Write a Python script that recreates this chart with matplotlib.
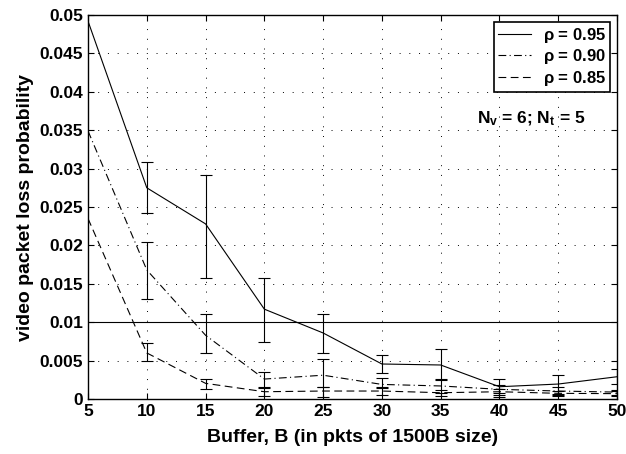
"""Video packet loss probability vs buffer size."""

import matplotlib

matplotlib.use("Agg")
import matplotlib.pyplot as plt

plt.rcParams["font.family"] = ["Liberation Sans", "DejaVu Sans"]
plt.rcParams["font.weight"] = "bold"
plt.rcParams["mathtext.fontset"] = "custom"
plt.rcParams["mathtext.rm"] = "Liberation Sans:bold"
plt.rcParams["mathtext.bf"] = "Liberation Sans:bold"
plt.rcParams["mathtext.it"] = "Liberation Sans:bold"

buffer_sizes = [5, 10, 15, 20, 25, 30, 35, 40, 45, 50]

loss_095 = [0.0492, 0.0275, 0.0228, 0.0117, 0.0086, 0.00456, 0.00443, 0.0016, 0.00195, 0.0029]
low_095 = [0.0492, 0.0242, 0.0158, 0.0074, 0.0060, 0.00334, 0.00256, 0.0002, 0.0005, 0.0020]
high_095 = [0.0492, 0.0309, 0.0292, 0.0158, 0.0111, 0.00569, 0.00655, 0.00256, 0.0031, 0.0039]

loss_090 = [0.0349, 0.0168, 0.0083, 0.0026, 0.0031, 0.0019, 0.0017, 0.00126, 0.00104, 0.0009]
low_090 = [0.0349, 0.0130, 0.0060, 0.00147, 0.0016, 0.0014, 0.00074, 0.0008, 0.0006, 0.0005]
high_090 = [0.0349, 0.0204, 0.0111, 0.00356, 0.0052, 0.0028, 0.0025, 0.0018, 0.0015, 0.0012]

loss_085 = [0.0235, 0.0060, 0.00204, 0.00095, 0.00104, 0.00104, 0.00082, 0.00095, 0.00074, 0.0007]
low_085 = [0.0235, 0.00495, 0.0013, 0.0004, 0.0003, 0.0005, 0.0004, 0.0005, 0.0004, 0.0004]
high_085 = [0.0235, 0.0073, 0.00256, 0.0016, 0.0016, 0.0016, 0.0012, 0.0013, 0.0011, 0.0010]

series = [
    (r"$\rho$ = 0.95", loss_095, low_095, high_095, "-"),
    (r"$\rho$ = 0.90", loss_090, low_090, high_090, (0, (7, 3, 1, 3))),
    (r"$\rho$ = 0.85", loss_085, low_085, high_085, (0, (7, 4))),
]

fig = plt.figure(figsize=(6.26, 4.54), dpi=100)
ax = fig.add_axes([0.1406, 0.1211, 0.845, 0.8459])

for label, vals, lo, hi, ls in series:
    ax.plot(buffer_sizes, vals, color="black", linestyle=ls, linewidth=0.8, label=label)
    yerr = [[v - l for v, l in zip(vals, lo)], [h - v for v, h in zip(vals, hi)]]
    ax.errorbar(buffer_sizes[1:], vals[1:], yerr=[yerr[0][1:], yerr[1][1:]],
                fmt="none", ecolor="black", elinewidth=0.8, capsize=4, capthick=0.8)

ax.axhline(0.01, color="black", linewidth=0.8)

ax.set_xlim(5, 50)
ax.set_ylim(0, 0.05)
ax.set_xticks(range(5, 51, 5))
ax.set_yticks([i * 0.005 for i in range(11)])
ax.set_yticklabels(["0", "0.005", "0.01", "0.015", "0.02", "0.025",
                    "0.03", "0.035", "0.04", "0.045", "0.05"])
ax.tick_params(direction="in", top=True, right=True, labelsize=12.5, length=4)
for lbl in ax.get_xticklabels() + ax.get_yticklabels():
    lbl.set_fontweight("bold")
ax.grid(True, linestyle=(0, (1, 9)), color="black", linewidth=0.7)
for sp in ax.spines.values():
    sp.set_linewidth(1.0)

ax.set_xlabel("Buffer, B (in pkts of 1500B size)", fontsize=14, fontweight="bold",
              labelpad=7)
ax.set_ylabel("video packet loss probability", fontsize=14, fontweight="bold")

ax.text(38.1, 0.0365, r"N$_\mathrm{v}$ = 6; N$_\mathrm{t}$ = 5", fontsize=12.5,
        fontweight="bold", va="center")

leg = ax.legend(loc="upper right", fontsize=12, fancybox=False, framealpha=1,
                edgecolor="black", borderpad=0.25, labelspacing=0.15,
                handlelength=2.0, handletextpad=0.7, borderaxespad=0.4)
leg.get_frame().set_linewidth(1.2)
for t in leg.get_texts():
    t.set_fontweight("bold")

fig.savefig("out.png", dpi=100)
